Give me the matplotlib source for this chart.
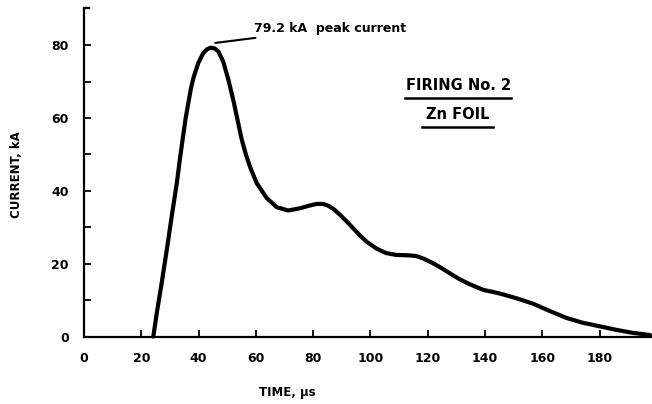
import numpy as np
import matplotlib.pyplot as plt

# data
time_us = [24.2, 25.4, 27.1, 28.9, 30.6, 32.4, 33.5, 34.5, 35.4, 36.4, 37.3, 38.2,
           39.9, 41.6, 43.0, 44.3, 45.6, 46.9, 48.6, 50.4, 52.1, 53.6, 55.0, 56.5,
           58.0, 60.3, 63.8, 67.3, 71.3, 75.4, 78.5, 81.2, 83.5, 85.3, 87.3, 89.4,
           91.7, 94.0, 96.4, 98.7, 102.2, 105.5, 109, 113, 116, 118.5, 121.9, 125,
           128, 131, 134.5, 139.4, 145.2, 151, 156.8, 162, 168.4, 174, 180, 186,
           191.6, 197.6]
current_kA = [0, 6.4, 14.6, 23.8, 32.9, 42.1, 48.8, 54.5, 59.5, 64.0, 68.0, 71.0,
              75.1, 77.8, 78.9, 79.3, 79.1, 78.3, 75.5, 70.5, 65.0, 59.5, 54.3, 50.0,
              46.5, 42.1, 38.0, 35.5, 34.6, 35.2, 35.9, 36.4, 36.4, 35.9, 34.9, 33.4,
              31.6, 29.7, 27.7, 26.0, 24.1, 22.9, 22.4, 22.3, 22.1, 21.4, 20.1, 18.7,
              17.2, 15.8, 14.4, 12.8, 11.8, 10.5, 9.0, 7.2, 5.1, 3.8, 2.8, 1.8,
              1.0, 0.4]

x_ticks = [0, 20, 40, 60, 80, 100, 120, 140, 160, 180]
y_ticks = [0, 20, 40, 60, 80]
y_minor = [10, 30, 50, 70]

plt.rcParams['font.family'] = ['DejaVu Sans']

fig = plt.figure(figsize=(6.52, 4.04), dpi=100)
ax = fig.add_axes([84 / 652, 67.5 / 404, 568 / 652, 328.5 / 404])

ax.plot(time_us, current_kA, color='black', linewidth=3.0,
        solid_joinstyle='round', solid_capstyle='round', clip_on=False)

ax.set_xlim(0, 198.3)
ax.set_ylim(0, 90.2)
ax.spines['top'].set_visible(False)
ax.spines['right'].set_visible(False)
ax.spines['left'].set_linewidth(1.6)
ax.spines['bottom'].set_linewidth(1.6)

ax.set_xticks(x_ticks)
ax.set_xticklabels([str(v) for v in x_ticks], fontsize=9, fontweight='bold')
ax.set_yticks(y_ticks)
ax.set_yticklabels([str(v) for v in y_ticks], fontsize=9, fontweight='bold')
ax.set_yticks(y_minor, minor=True)
ax.tick_params(axis='both', which='both', direction='in', width=1.3, length=5)
ax.tick_params(axis='x', pad=11)
ax.tick_params(axis='y', pad=11)

# top end of y axis has a small hook
ax.plot([0, 1.6], [90.2, 90.2], color='black', linewidth=1.6, clip_on=False)

ax.text(-23.4, 44.4, 'CURRENT, kA', rotation=90, fontsize=8.5, fontweight='bold',
        ha='center', va='center')
ax.text(71, -15.5, 'TIME, \u00b5s', fontsize=8.5, fontweight='bold',
        ha='center', va='center')

# peak annotation
ax.annotate('79.2 kA  peak current', xy=(45.8, 80.6), xytext=(59.3, 84.6),
            fontsize=9, fontweight='bold', va='center', ha='left',
            arrowprops=dict(arrowstyle='-', color='black', lw=1.5,
                            shrinkA=1, shrinkB=0))

# label block
ax.text(130.7, 68.9, 'FIRING No. 2', fontsize=10.5, fontweight='bold',
        ha='center', va='center')
ax.plot([112, 149.2], [65.6, 65.6], color='black', linewidth=1.8)
ax.text(130.5, 60.9, 'Zn FOIL', fontsize=10.5, fontweight='bold',
        ha='center', va='center')
ax.plot([118, 142.8], [57.6, 57.6], color='black', linewidth=1.8)

plt.savefig('out.png', dpi=100)
